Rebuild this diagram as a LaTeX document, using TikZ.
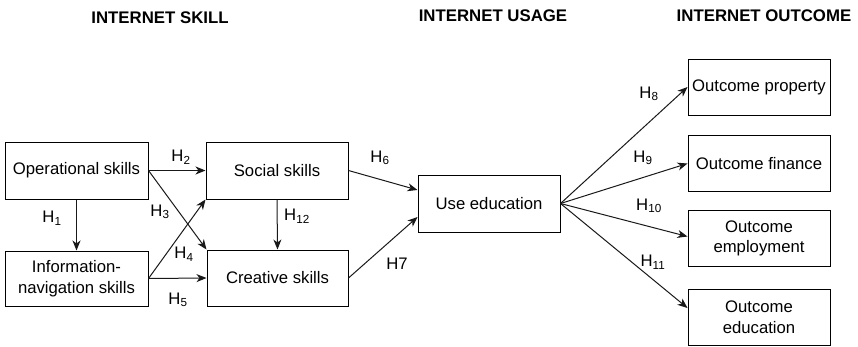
\documentclass[tikz,border=0pt]{standalone}
\usepackage{fontspec}
\setmainfont{Liberation Sans}
\usetikzlibrary{arrows.meta,calc}

\tikzset{
  box/.style={draw=black, line width=1pt, minimum width=142pt, minimum height=56pt,
    inner sep=2pt, align=center, font=\fontsize{16.7}{20.5}\selectfont},
  header/.style={font=\fontsize{16.8}{20}\selectfont\bfseries},
  hyp/.style={font=\fontsize{16.7}{20}\selectfont, inner sep=0pt},
  link/.style={draw=black!90, line width=1pt, -{Stealth[length=10pt,width=8pt,inset=3pt]}}
}

\newcommand{\hsub}[1]{H\textsubscript{#1}}

\begin{document}
\begin{tikzpicture}[x=1pt,y=-1pt]
  \useasboundingbox (0,0) rectangle (858,346);

  % column headings
  \node[header] (hskill) at (160,18) {INTERNET SKILL};
  \node[header] (husage) at (493,16) {INTERNET USAGE};
  \node[header] (houtc)  at (764,16) {INTERNET OUTCOME};

  % skill boxes
  \node[box, minimum width=143pt, minimum height=57pt] (op)   at (76.5,170.5) {Operational skills};
  \node[box, minimum width=143pt, minimum height=55pt] (info) at (76.5,278.5) {Information-\\navigation skills};
  \node[box, minimum height=57pt] (soc)  at (277,170.5) {Social skills};
  \node[box, minimum width=141pt] (cre)  at (277.5,278) {Creative skills};

  % usage box
  \node[box, minimum height=57pt] (use) at (489,203.5) {Use education};

  % outcome boxes
  \node[box] (prop) at (759,87)    {Outcome property};
  \node[box] (fin)  at (759,163.5) {Outcome finance};
  \node[box] (emp)  at (759,238.5) {Outcome\\employment};
  \node[box] (edu)  at (759,317)   {Outcome\\education};

  % skill relations
  \draw[link] (op.south) -- (info.north);
  \draw[link] (op.east) -- (soc.west);
  \draw[link] (op.east) -- (cre.north west);
  \draw[link] (info.east) -- (soc.south west);
  \draw[link] (info.east) -- (cre.west);
  \draw[link] (soc.south) -- (cre.north);

  % skills to usage
  \draw[link] (soc.east) -- ($(use.west)+(0,-13.5)$);
  \draw[link] (cre.east) -- ($(use.west)+(0,13.5)$);

  % usage to outcomes
  \draw[link] (use.east) -- (prop.west);
  \draw[link] (use.east) -- (fin.west);
  \draw[link] (use.east) -- ($(emp.west)+(0,-2)$);
  \draw[link] (use.east) -- ($(edu.west)+(0,-9)$);

  % hypothesis labels
  \node[hyp] (h1)  at (52,218)  {\hsub{1}};
  \node[hyp] (h2)  at (181,157) {\hsub{2}};
  \node[hyp] (h3)  at (160,212) {\hsub{3}};
  \node[hyp] (h4)  at (184,254) {\hsub{4}};
  \node[hyp] (h5)  at (178,300) {\hsub{5}};
  \node[hyp] (h12) at (297,216) {\hsub{12}};
  \node[hyp] (h6)  at (380,158) {\hsub{6}};
  \node[hyp] (h7)  at (397,264) {H7};
  \node[hyp] (h8)  at (649,94)  {\hsub{8}};
  \node[hyp] (h9)  at (643,158) {\hsub{9}};
  \node[hyp] (h10) at (649,206) {\hsub{10}};
  \node[hyp] (h11) at (653,262) {\hsub{11}};
\end{tikzpicture}
\end{document}
